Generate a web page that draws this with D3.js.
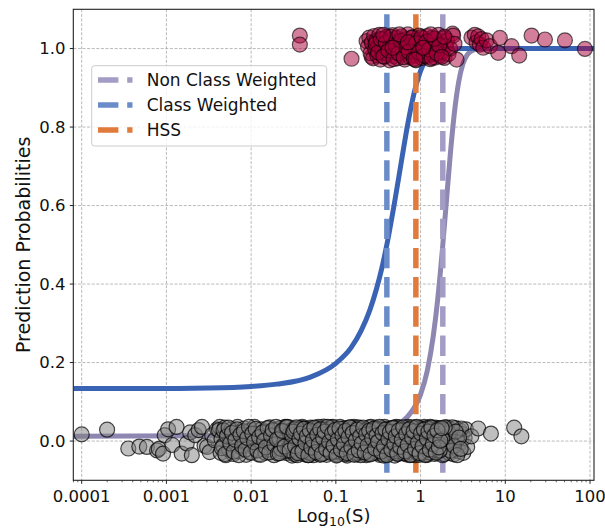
<!DOCTYPE html>
<html>
<head>
<meta charset="utf-8">
<script src="https://cdn.jsdelivr.net/npm/d3@7"></script>
<style>
  body { margin: 0; background: #fff; }
  svg { display: block; font-family: "DejaVu Sans", sans-serif; }
</style>
</head>
<body>
<svg id="chart" width="605" height="528"></svg>
<script>
// threshold lines (value of S) and legend labels
var lineLabels = ['Non Class Weighted', 'Class Weighted', 'HSS'];
var lineColors = ['#a39cc5', '#6a8dc9', '#e07b3b'];
var thresholds = [1.83, 0.40, 0.88];

// fitted curves: [log10(S), probability]
var classWeighted = [[-4.1, 0.134], [-3, 0.134], [-2.5, 0.135], [-2, 0.139], [-1.7, 0.145],
  [-1.3, 0.163], [-1, 0.198], [-0.82, 0.238], [-0.7, 0.282], [-0.6, 0.333], [-0.52, 0.388],
  [-0.46, 0.438], [-0.4, 0.498], [-0.3, 0.617], [-0.22, 0.721], [-0.15, 0.809], [-0.1, 0.864],
  [-0.05, 0.909], [0, 0.943], [0.05, 0.967], [0.1, 0.982], [0.18, 0.995], [0.3, 0.999],
  [0.5, 1.0], [2.05, 1.0]];
var nonClassWeighted = [[-4.1, 0.012], [-1, 0.015], [-0.5, 0.025], [-0.3, 0.039], [-0.15, 0.063],
  [0, 0.119], [0.08, 0.180], [0.15, 0.268], [0.2, 0.357], [0.26, 0.494], [0.3, 0.598],
  [0.35, 0.728], [0.4, 0.838], [0.45, 0.915], [0.5, 0.961], [0.55, 0.984], [0.6, 0.994],
  [0.7, 0.9995], [0.8, 1.0], [2.05, 1.0]];

// class 0 samples: [log10(S), jittered probability]
var negatives = [
  [-4.00, 0.017], [-3.70, 0.029], [-3.45, -0.019], [-3.32, -0.014], [-3.23, -0.015], [-3.11, -0.024],
  [-3.09, -0.020], [-3.04, -0.032], [-3.02, 0.015], [-2.98, 0.030], [-2.93, -0.010], [-2.88, 0.036],
  [-2.82, -0.032], [-2.76, -0.006], [-2.72, 0.022], [-2.70, -0.036], [-2.66, 0.015], [-2.62, 0.028],
  [-2.58, 0.036], [-2.55, -0.012], [-2.52, -0.015], [-2.49, -0.028], [-2.46, 0.015], [-2.43, 0.002],
  [-2.40, 0.030], [-2.37, 0.036],
  [-2.38, 0.028], [-2.36, -0.030], [-2.35, 0.005], [-2.33, -0.012], [-2.31, 0.034], [-2.30, -0.036],
  [-2.28, 0.018], [-2.26, -0.022], [-2.25, 0.000], [-2.23, 0.030], [-2.21, -0.033], [-2.20, 0.012],
  [-2.18, -0.008], [-2.16, 0.036], [-2.15, -0.026], [-2.13, 0.022], [-2.11, -0.017], [-2.10, 0.003],
  [-2.08, 0.032], [-2.06, -0.035], [-2.05, 0.015], [-2.03, -0.005], [-2.01, 0.027], [-2.00, -0.028],
  [-1.98, 0.008], [-1.96, 0.036], [-1.95, -0.020], [-1.93, 0.019], [-1.91, -0.034], [-1.90, 0.002],
  [-1.88, 0.030], [-1.86, -0.012], [-1.85, 0.024], [-1.83, -0.030], [-1.81, 0.010], [-1.80, -0.022],
  [-1.78, 0.035], [-1.76, -0.003], [-1.75, 0.017], [-1.73, -0.036], [-1.71, 0.028], [-1.70, -0.015],
  [-1.68, 0.006], [-1.66, 0.033], [-1.65, -0.026], [-1.63, 0.020], [-1.61, -0.009], [-1.60, 0.036],
  [-1.588, 0.021], [-1.576, -0.031], [-1.564, 0.007], [-1.552, 0.035], [-1.540, -0.014], [-1.528, 0.028],
  [-1.516, -0.037], [-1.504, 0.001], [-1.492, 0.016], [-1.480, -0.024], [-1.468, 0.032], [-1.456, -0.006],
  [-1.444, 0.011], [-1.432, -0.029], [-1.420, 0.025], [-1.408, -0.018], [-1.396, 0.036], [-1.384, -0.002],
  [-1.372, -0.034], [-1.360, 0.013], [-1.348, -0.027], [-1.336, 0.030], [-1.324, -0.010], [-1.312, 0.004],
  [-1.300, 0.034], [-1.288, -0.021], [-1.276, 0.018], [-1.264, -0.036], [-1.252, 0.009], [-1.240, 0.026],
  [-1.228, -0.015], [-1.216, 0.033], [-1.204, -0.032], [-1.192, -0.004], [-1.180, 0.022], [-1.168, -0.025],
  [-1.156, 0.014], [-1.144, 0.037], [-1.132, -0.011], [-1.120, 0.002], [-1.108, -0.035], [-1.096, 0.029],
  [-1.084, -0.019], [-1.072, 0.010], [-1.060, 0.035], [-1.048, -0.028], [-1.036, 0.017], [-1.024, -0.007],
  [-1.012, 0.031], [-1.000, -0.033], [-0.988, 0.005], [-0.976, 0.024], [-0.964, -0.016], [-0.952, 0.036],
  [-0.940, -0.030], [-0.928, 0.012], [-0.916, -0.003], [-0.904, 0.027], [-0.892, -0.023], [-0.880, 0.033],
  [-0.868, -0.037], [-0.856, 0.008], [-0.844, 0.019], [-0.832, -0.012], [-0.820, 0.030], [-0.808, -0.026],
  [-0.796, 0.003], [-0.784, 0.036], [-0.772, -0.020], [-0.760, 0.015], [-0.748, -0.034], [-0.736, 0.023],
  [-0.724, -0.008], [-0.712, 0.032], [-0.700, -0.029], [-0.688, 0.010], [-0.676, -0.016], [-0.664, 0.028],
  [-0.652, 0.001], [-0.640, -0.036], [-0.628, 0.020], [-0.616, -0.022], [-0.604, 0.035], [-0.592, -0.005],
  [-0.580, 0.013], [-0.568, -0.031], [-0.556, 0.026], [-0.544, -0.013], [-0.532, 0.034], [-0.520, -0.025],
  [-0.508, 0.006], [-0.496, 0.022], [-0.484, -0.035], [-0.472, 0.031], [-0.460, -0.009], [-0.448, 0.016],
  [-0.436, -0.027], [-0.424, 0.036], [-0.412, -0.018], [-0.400, 0.004], [-0.388, 0.029], [-0.376, -0.032],
  [-0.364, 0.011], [-0.352, -0.004], [-0.340, 0.033], [-0.328, -0.021], [-0.316, 0.018], [-0.304, -0.037],
  [-0.292, 0.025], [-0.280, -0.011], [-0.268, 0.008], [-0.256, 0.035], [-0.244, -0.026], [-0.232, 0.014],
  [-0.220, -0.030], [-0.208, 0.030], [-0.196, -0.006], [-0.184, 0.021], [-0.172, -0.034], [-0.160, 0.002],
  [-0.148, 0.036], [-0.136, -0.017], [-0.124, 0.012], [-0.112, -0.028], [-0.100, 0.027], [-0.088, -0.010],
  [-0.076, 0.032], [-0.064, -0.036], [-0.052, 0.017], [-0.040, 0.005], [-0.028, -0.023], [-0.016, 0.034],
  [-0.004, -0.014], [0.008, 0.023], [0.020, -0.031], [0.032, 0.009], [0.044, 0.036], [0.056, -0.019],
  [0.068, 0.015], [0.080, -0.035], [0.092, 0.028], [0.104, -0.007], [0.116, 0.031], [0.128, -0.025],
  [0.140, 0.003], [0.152, 0.020], [0.164, -0.033], [0.176, 0.034], [0.188, -0.012], [0.200, 0.011],
  [0.212, -0.027], [0.224, 0.032], [0.236, -0.004], [0.248, 0.018], [0.260, -0.036], [0.272, 0.026],
  [0.284, -0.015], [0.296, 0.007], [0.308, 0.035], [0.320, -0.022], [0.332, 0.014], [0.344, -0.031],
  [0.356, 0.029], [0.368, -0.008], [0.380, 0.021], [0.392, -0.034], [0.404, 0.002], [0.416, 0.033],
  [0.428, -0.018], [0.440, 0.012], [0.452, -0.026], [0.464, 0.027], [0.476, -0.002], [0.490, 0.018],
  [0.505, -0.030], [0.520, 0.008], [0.535, 0.030], [0.550, -0.015],
  [0.48, 0.032], [0.60, 0.012], [0.68, 0.032], [0.83, 0.019], [1.105, 0.034], [1.19, 0.012],
  [-2.346, -0.018], [-2.326, 0.027], [-2.306, -0.033], [-2.286, 0.012], [-2.266, 0.034], [-2.246, -0.006],
  [-2.226, 0.021], [-2.206, -0.027], [-2.186, 0.003], [-2.166, 0.030], [-2.146, -0.036], [-2.126, 0.016],
  [-2.106, -0.012], [-2.086, 0.025], [-2.066, -0.022], [-2.046, 0.008], [-2.026, 0.036], [-2.006, -0.030],
  [-1.986, 0.019], [-1.966, -0.003], [-1.946, 0.031], [-1.926, -0.024], [-1.906, 0.010], [-1.886, -0.035],
  [-1.866, 0.022], [-1.846, 0.001], [-1.826, -0.016], [-1.806, 0.033], [-1.786, -0.029], [-1.766, 0.014],
  [-1.746, 0.028], [-1.726, -0.009], [-1.706, 0.036], [-1.686, -0.032], [-1.666, 0.006], [-1.646, -0.020],
  [-1.626, 0.024], [-1.606, -0.001], [-1.586, 0.035], [-1.566, -0.026], [-1.546, 0.017], [-1.526, -0.011],
  [-1.506, 0.029], [-1.486, -0.034], [-1.466, 0.004], [-1.446, 0.022], [-1.426, -0.019], [-1.406, 0.033],
  [-1.386, -0.029], [-1.366, 0.009], [-1.346, 0.026], [-1.326, -0.036], [-1.306, 0.015], [-1.286, -0.007],
  [-1.266, 0.031], [-1.246, -0.023], [-1.226, 0.002], [-1.206, 0.036], [-1.186, -0.017], [-1.166, 0.020],
  [-1.146, -0.031], [-1.126, 0.027], [-1.106, -0.004], [-1.086, 0.012], [-1.066, -0.025], [-1.046, 0.034],
  [-1.026, -0.013], [-1.006, 0.007], [-0.986, -0.035], [-0.966, 0.023], [-0.946, -0.008], [-0.926, 0.030],
  [-0.906, -0.027], [-0.886, 0.016], [-0.866, 0.001], [-0.846, -0.021], [-0.826, 0.035], [-0.806, -0.033],
  [-0.786, 0.011], [-0.766, 0.025], [-0.746, -0.014], [-0.726, 0.033], [-0.706, -0.036], [-0.686, 0.019],
  [-0.666, -0.002], [-0.646, 0.029], [-0.626, -0.024], [-0.606, 0.006], [-0.586, 0.036], [-0.566, -0.018],
  [-0.546, 0.013], [-0.526, -0.030], [-0.506, 0.027], [-0.486, -0.006], [-0.466, 0.021], [-0.446, -0.034],
  [-0.426, 0.010], [-0.406, 0.032], [-0.386, -0.022], [-0.366, 0.002], [-0.346, -0.028], [-0.326, 0.024],
  [-0.306, -0.012], [-0.286, 0.036], [-0.266, -0.033], [-0.246, 0.015], [-0.226, -0.005], [-0.206, 0.029],
  [-0.186, -0.025], [-0.166, 0.008], [-0.146, 0.022], [-0.126, -0.036], [-0.106, 0.018], [-0.086, -0.015],
  [-0.066, 0.034], [-0.046, -0.029], [-0.026, 0.011], [-0.006, 0.026], [0.014, -0.009], [0.034, 0.031],
  [0.054, -0.034], [0.074, 0.004], [0.094, -0.021], [0.114, 0.036], [0.134, -0.014], [0.154, 0.024],
  [0.174, -0.028], [0.194, 0.006], [0.214, 0.033], [0.234, -0.019], [0.254, 0.013], [0.274, -0.033],
  [0.294, 0.028], [0.314, -0.001], [0.334, 0.020], [0.354, -0.025], [0.374, 0.035], [0.394, -0.012],
  [0.414, 0.024], [0.434, -0.036], [0.454, 0.009], [0.474, -0.020],
  [-1.695, 0.004], [-1.665, -0.031], [-1.635, 0.026], [-1.605, -0.014], [-1.575, 0.036], [-1.545, -0.024],
  [-1.515, 0.014], [-1.485, 0.030], [-1.455, -0.036], [-1.425, 0.007], [-1.395, -0.019], [-1.365, 0.032],
  [-1.335, -0.003], [-1.305, -0.030], [-1.275, 0.023], [-1.245, -0.009], [-1.215, 0.010], [-1.185, -0.035],
  [-1.155, 0.029], [-1.125, 0.018], [-1.095, -0.022], [-1.065, 0.003], [-1.035, 0.036], [-1.005, -0.027],
  [-0.975, 0.013], [-0.945, -0.012], [-0.915, 0.032], [-0.885, -0.034], [-0.855, 0.022], [-0.825, -0.005],
  [-0.795, 0.016], [-0.765, -0.030], [-0.735, 0.035], [-0.705, -0.018], [-0.675, 0.006], [-0.645, 0.027],
  [-0.615, -0.033], [-0.585, 0.019], [-0.555, -0.008], [-0.525, 0.031], [-0.495, -0.024], [-0.465, 0.011],
  [-0.435, -0.037], [-0.405, 0.024], [-0.375, -0.002], [-0.345, -0.016], [-0.315, 0.034], [-0.285, -0.027],
  [-0.255, 0.012], [-0.225, 0.028], [-0.195, -0.031], [-0.165, 0.017], [-0.135, -0.004], [-0.105, 0.035],
  [-0.075, -0.022], [-0.045, 0.009], [-0.015, -0.035], [0.015, 0.026], [0.045, -0.011], [0.075, 0.033],
  [0.105, -0.029], [0.135, 0.014], [0.165, -0.002], [0.195, 0.030], [0.225, -0.024], [0.255, 0.005],
  [0.285, 0.035],
  [-1.500, 0.024], [-1.482, -0.013], [-1.465, 0.035], [-1.447, -0.031], [-1.430, 0.006], [-1.412, 0.019],
  [-1.395, -0.026], [-1.377, 0.031], [-1.360, -0.005], [-1.342, 0.013], [-1.325, -0.036], [-1.307, 0.027],
  [-1.290, -0.017], [-1.272, 0.002], [-1.255, 0.034], [-1.237, -0.028], [-1.220, 0.016], [-1.202, -0.009],
  [-1.185, 0.030], [-1.167, -0.033], [-1.150, 0.008], [-1.132, 0.024], [-1.115, -0.020], [-1.097, 0.036],
  [-1.080, -0.003], [-1.062, -0.030], [-1.045, 0.019], [-1.027, -0.012], [-1.010, 0.028], [-0.992, -0.037],
  [-0.975, 0.004], [-0.957, 0.032], [-0.940, -0.022], [-0.922, 0.015], [-0.905, -0.008], [-0.887, 0.026],
  [-0.870, -0.031], [-0.852, 0.010], [-0.835, 0.035], [-0.817, -0.016], [-0.800, 0.021], [-0.782, -0.035],
  [-0.765, 0.002], [-0.747, 0.029], [-0.730, -0.024], [-0.712, 0.012], [-0.695, -0.006], [-0.677, 0.034],
  [-0.660, -0.029], [-0.642, 0.017], [-0.625, -0.011], [-0.607, 0.026], [-0.590, -0.034], [-0.572, 0.007],
  [-0.555, 0.031], [-0.537, -0.019], [-0.520, 0.014], [-0.502, -0.002], [-0.485, 0.036], [-0.467, -0.027],
  [-0.450, 0.020], [-0.432, -0.013], [-0.415, 0.029], [-0.397, -0.036], [-0.380, 0.005], [-0.362, 0.023],
  [-0.345, -0.022], [-0.327, 0.033], [-0.310, -0.007], [-0.292, 0.012], [-0.275, -0.032], [-0.257, 0.027],
  [-0.240, -0.015], [-0.222, 0.003], [-0.205, 0.035], [-0.187, -0.026], [-0.170, 0.018], [-0.152, -0.010],
  [-0.135, 0.030], [-0.117, -0.035], [-0.100, 0.009], [-0.082, 0.025], [-0.065, -0.020], [-0.047, 0.036],
  [-0.030, -0.004], [-0.012, -0.031], [0.005, 0.019], [0.023, -0.013], [0.040, 0.029], [0.058, -0.036],
  [0.075, 0.006], [0.093, 0.024], [0.110, -0.022], [0.128, 0.034], [0.145, -0.008], [0.163, 0.014],
  [0.180, -0.030], [0.198, 0.027], [0.215, -0.016], [0.233, 0.001], [0.250, 0.033]
];

// class 1 samples
var positives = [
  [-1.425, 1.033], [-1.425, 1.010], [-0.815, 0.974], [-0.638, 1.019], [-0.578, 0.979],
  [-0.620, 1.005], [-0.605, 1.028], [-0.590, 0.988], [-0.575, 1.015], [-0.560, 0.975], [-0.548, 1.032],
  [-0.535, 0.998], [-0.522, 1.020], [-0.510, 0.982], [-0.498, 1.008], [-0.486, 1.035], [-0.474, 0.972],
  [-0.462, 1.012], [-0.450, 0.993], [-0.438, 1.025], [-0.426, 0.979], [-0.414, 1.003], [-0.402, 1.030],
  [-0.390, 0.986], [-0.378, 1.016], [-0.366, 0.970], [-0.354, 1.022], [-0.342, 0.996], [-0.330, 1.034],
  [-0.318, 0.981], [-0.306, 1.010], [-0.294, 0.990], [-0.282, 1.027], [-0.270, 0.975], [-0.258, 1.006],
  [-0.246, 1.018], [-0.234, 0.984], [-0.222, 1.031], [-0.210, 0.997], [-0.198, 1.013], [-0.186, 0.972],
  [-0.174, 1.024], [-0.162, 0.989], [-0.150, 1.036], [-0.138, 1.001], [-0.126, 0.978], [-0.114, 1.017],
  [-0.102, 0.993], [-0.090, 1.029], [-0.078, 0.983], [-0.066, 1.009], [-0.054, 0.970], [-0.042, 1.021],
  [-0.030, 0.999], [-0.018, 1.033], [-0.006, 0.987], [0.006, 1.014], [0.018, 0.976], [0.030, 1.026],
  [0.042, 0.995], [0.054, 1.007], [0.066, 0.980], [0.078, 1.032], [0.090, 0.991], [0.102, 1.019],
  [0.114, 0.973], [0.126, 1.004], [0.138, 1.028], [0.150, 0.985], [0.162, 1.011], [0.174, 0.977],
  [0.186, 1.023], [0.198, 0.996], [0.212, 1.035], [0.226, 0.982], [0.240, 1.012], [0.254, 0.992],
  [0.268, 1.026], [0.282, 0.976], [0.298, 1.006], [0.315, 1.020], [0.330, 0.986], [0.350, 1.000],
  [0.378, 1.038], [0.385, 1.033], [0.400, 1.012], [0.425, 0.972],
  [-0.53, 1.012], [-0.50, 0.990], [-0.47, 1.024], [-0.44, 0.980], [-0.41, 1.015], [-0.38, 0.995],
  [-0.35, 1.030], [-0.32, 0.973], [-0.29, 1.008], [-0.26, 0.988], [-0.23, 1.020], [-0.20, 0.978],
  [-0.17, 1.003], [-0.14, 0.992], [-0.11, 1.027], [-0.08, 0.974], [-0.05, 1.014], [-0.02, 0.990],
  [0.01, 1.029], [0.04, 0.982], [0.07, 1.017], [0.10, 0.998], [0.13, 0.976], [0.16, 1.025],
  [0.19, 0.988], [0.22, 1.008], [0.25, 0.979], [0.28, 1.030], [-0.44, 1.035], [-0.25, 1.036],
  [-0.06, 0.972], [0.12, 1.036], [-0.33, 1.002], [-0.15, 1.016], [0.03, 1.002],
  [0.60, 1.028], [0.64, 1.035], [0.66, 1.016], [0.68, 1.031], [0.70, 1.010], [0.72, 1.024],
  [0.74, 1.002], [0.78, 1.021], [0.82, 1.006], [0.916, 0.989], [0.936, 1.027], [1.074, 1.006],
  [1.164, 0.982], [1.31, 1.033], [1.468, 1.023], [1.704, 1.021], [1.94, 0.999]
];

var yTicks = [0, 0.2, 0.4, 0.6, 0.8, 1.0];
var xTicks = [1e-4, 1e-3, 1e-2, 1e-1, 1, 10, 100];
var xTickLabels = ['0.0001', '0.001', '0.01', '0.1', '1', '10', '100'];

(function() {
    var svg = d3.select('#chart');
    var x0 = 73.3, x1 = 594, y0 = 9.3, y1 = 480.3;

    var x = d3.scaleLog().domain([Math.pow(10, -4.099), Math.pow(10, 2.047)]).range([x0, x1]);
    var y = d3.scaleLinear().domain([-0.1, 1.1]).range([y1, y0]);
    var px = d => x(Math.pow(10, d[0]));

    svg.append('defs').append('clipPath').attr('id', 'plot')
        .append('rect').attr('x', x0).attr('y', y0)
        .attr('width', x1 - x0).attr('height', y1 - y0);

    // grid
    var grid = svg.append('g').attr('stroke', '#a8a8a8').attr('stroke-width', 0.8)
        .attr('stroke-dasharray', '3,1.6');
    grid.selectAll('line.gx').data(xTicks).enter().append('line')
        .attr('x1', d => x(d)).attr('x2', d => x(d)).attr('y1', y0).attr('y2', y1);
    grid.selectAll('line.gy').data(yTicks).enter().append('line')
        .attr('x1', x0).attr('x2', x1).attr('y1', d => y(d)).attr('y2', d => y(d));

    var plot = svg.append('g').attr('clip-path', 'url(#plot)');

    var line = d3.line().x(px).y(d => y(d[1])).curve(d3.curveMonotoneX);
    plot.append('path').datum(nonClassWeighted).attr('d', line)
        .attr('fill', 'none').attr('stroke', '#8d87b1').attr('stroke-width', 5);
    plot.append('path').datum(classWeighted).attr('d', line)
        .attr('fill', 'none').attr('stroke', '#3b63b4').attr('stroke-width', 5);

    // threshold lines, dashes start from the bottom
    plot.selectAll('line.thr').data(thresholds).enter().append('line')
        .attr('x1', d => x(d)).attr('x2', d => x(d))
        .attr('y1', y1).attr('y2', y0)
        .attr('stroke', (d, i) => lineColors[i]).attr('stroke-width', 5.5)
        .attr('stroke-dasharray', '20.4,8.8').attr('stroke-dashoffset', 21.6);

    function dots(data, fill, edge) {
        plot.append('g').selectAll('circle').data(data).enter().append('circle')
            .attr('cx', px).attr('cy', d => y(d[1])).attr('r', 7.5)
            .attr('fill', fill).attr('fill-opacity', 0.5)
            .attr('stroke', '#000').attr('stroke-opacity', edge).attr('stroke-width', 1.2);
    }
    dots(negatives, '#808080', 0.7);
    dots(positives, '#a8003a', 0.6);

    // frame
    svg.append('rect').attr('x', x0).attr('y', y0)
        .attr('width', x1 - x0).attr('height', y1 - y0)
        .attr('fill', 'none').attr('stroke', '#222').attr('stroke-width', 1.1);

    // x ticks
    var minor = [];
    for (var e = -5; e <= 2; e++) {
        for (var m = 2; m <= 9; m++) {
            var v = m * Math.pow(10, e);
            if (x(v) >= x0 && x(v) <= x1) minor.push(v);
        }
    }
    svg.append('g').selectAll('line').data(minor).enter().append('line')
        .attr('x1', d => x(d)).attr('x2', d => x(d)).attr('y1', y1).attr('y2', y1 + 2)
        .attr('stroke', '#222').attr('stroke-width', 0.7);
    svg.append('g').selectAll('line').data(xTicks).enter().append('line')
        .attr('x1', d => x(d)).attr('x2', d => x(d)).attr('y1', y1).attr('y2', y1 + 3.5)
        .attr('stroke', '#222').attr('stroke-width', 1);
    svg.append('g').selectAll('text').data(xTicks).enter().append('text')
        .attr('x', d => x(d)).attr('y', 501.5).attr('text-anchor', 'middle')
        .attr('font-size', 16.5).attr('fill', '#111')
        .text((d, i) => xTickLabels[i]);

    // y ticks
    svg.append('g').selectAll('line').data(yTicks).enter().append('line')
        .attr('x1', x0 - 3.5).attr('x2', x0).attr('y1', d => y(d)).attr('y2', d => y(d))
        .attr('stroke', '#222').attr('stroke-width', 1);
    svg.append('g').selectAll('text').data(yTicks).enter().append('text')
        .attr('x', 65.5).attr('y', d => y(d)).attr('dy', '0.36em').attr('text-anchor', 'end')
        .attr('font-size', 16.5).attr('fill', '#111')
        .text(d => d.toFixed(1));

    // axis labels
    var xl = svg.append('text').attr('x', (x0 + x1) / 2).attr('y', 521.5)
        .attr('text-anchor', 'middle').attr('font-size', 18).attr('fill', '#111');
    xl.append('tspan').text('Log');
    xl.append('tspan').attr('dy', 4).attr('font-size', 12.5).text('10');
    xl.append('tspan').attr('dy', -4).text('(S)');

    svg.append('text').attr('transform', 'translate(30,' + ((y0 + y1) / 2) + ') rotate(-90)')
        .attr('text-anchor', 'middle').attr('font-size', 19).attr('fill', '#111')
        .text('Prediction Probabilities');

    // legend
    var lg = svg.append('g');
    lg.append('rect').attr('x', 91.7).attr('y', 65.7).attr('width', 235).attr('height', 80.3)
        .attr('rx', 3).attr('fill', '#fff').attr('fill-opacity', 0.8)
        .attr('stroke', '#cccccc').attr('stroke-width', 1);
    var items = lg.selectAll('g').data(lineLabels).enter().append('g')
        .attr('transform', (d, i) => 'translate(0,' + (80 + i * 25) + ')');
    items.append('line').attr('x1', 98).attr('x2', 132.5).attr('y1', 0).attr('y2', 0)
        .attr('stroke', (d, i) => lineColors[i]).attr('stroke-width', 5.5)
        .attr('stroke-dasharray', '20.4,8.8');
    items.append('text').attr('x', 146.7).attr('y', 0).attr('dy', '0.36em')
        .attr('font-size', 17).attr('fill', '#111').text(d => d);
})();
</script>
</body>
</html>
